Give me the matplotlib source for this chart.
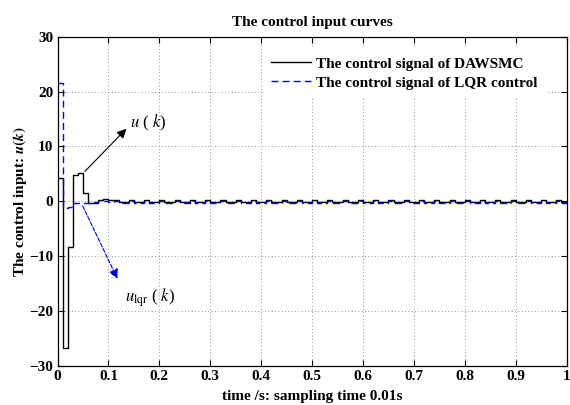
import numpy as np
import matplotlib

matplotlib.use("Agg")
import matplotlib.pyplot as plt

plt.rcParams["font.family"] = ["Liberation Serif", "DejaVu Serif"]
plt.rcParams["mathtext.fontset"] = "stix"

# sampling time 0.01 s, k = 0..100
dt = 0.01
u_dawsmc = [
    4.2, -26.8, -8.3, 4.8, 5.1, 1.6, -0.3, -0.3, 0.3, 0.4,
    0.2, 0.3, -0.2, -0.2, 0.3, -0.2, -0.2, 0.3, -0.2, -0.2,
    0.3, -0.2, -0.2, 0.3, -0.2, -0.2, 0.3, -0.2, -0.2, 0.3,
    -0.2, -0.2, 0.3, -0.2, -0.2, 0.3, -0.2, -0.2, 0.3, -0.2,
    -0.2, 0.3, -0.2, -0.2, 0.3, -0.2, -0.2, 0.3, -0.2, -0.2,
    0.3, -0.2, -0.2, 0.3, -0.2, -0.2, 0.3, -0.2, -0.2, 0.3,
    -0.2, -0.2, 0.3, -0.2, -0.2, 0.3, -0.2, -0.2, 0.3, -0.2,
    -0.2, 0.3, -0.2, -0.2, 0.3, -0.2, -0.2, 0.3, -0.2, -0.2,
    0.3, -0.2, -0.2, 0.3, -0.2, -0.2, 0.3, -0.2, -0.2, 0.3,
    -0.2, -0.2, 0.3, -0.2, -0.2, 0.3, -0.2, -0.2, 0.3, -0.2,
    -0.2,
]
u_lqr = [
    21.5, -1.3, -1.0, -0.4, -0.3, -0.3, -0.3, -0.2, 0.1, 0.1,
    -0.1, 0.1, -0.3, -0.3, 0.1, -0.3, -0.3, 0.1, -0.3, -0.3,
    0.1, -0.3, -0.3, 0.1, -0.3, -0.3, 0.1, -0.3, -0.3, 0.1,
    -0.3, -0.3, 0.1, -0.3, -0.3, 0.1, -0.3, -0.3, 0.1, -0.3,
    -0.3, 0.1, -0.3, -0.3, 0.1, -0.3, -0.3, 0.1, -0.3, -0.3,
    0.1, -0.3, -0.3, 0.1, -0.3, -0.3, 0.1, -0.3, -0.3, 0.1,
    -0.3, -0.3, 0.1, -0.3, -0.3, 0.1, -0.3, -0.3, 0.1, -0.3,
    -0.3, 0.1, -0.3, -0.3, 0.1, -0.3, -0.3, 0.1, -0.3, -0.3,
    0.1, -0.3, -0.3, 0.1, -0.3, -0.3, 0.1, -0.3, -0.3, 0.1,
    -0.3, -0.3, 0.1, -0.3, -0.3, 0.1, -0.3, -0.3, 0.1, -0.3,
    -0.3,
]
x_ticks = [0, 0.1, 0.2, 0.3, 0.4, 0.5, 0.6, 0.7, 0.8, 0.9, 1]
x_ticklabels = ["0", "0.1", "0.2", "0.3", "0.4", "0.5", "0.6", "0.7", "0.8", "0.9", "1"]
y_ticks = [-30, -20, -10, 0, 10, 20, 30]
y_ticklabels = ["\u221230", "\u221220", "\u221210", "0", "10", "20", "30"]

t = np.arange(len(u_dawsmc)) * dt
t_lqr = np.arange(len(u_lqr)) * dt

fig = plt.figure(figsize=(5.7, 4.05), dpi=100)
ax = fig.add_axes([0.101, 0.097, 0.893, 0.812])

ax.plot(t, u_dawsmc, color="black", lw=1.0, drawstyle="steps-post",
        label="The control signal of DAWSMC")
ax.plot(t_lqr, u_lqr, color="blue", lw=1.0, ls=(0, (5, 3)), drawstyle="steps-post",
        label="The control signal of LQR control")

ax.set_xlim(0, 1)
ax.set_ylim(-30, 30)
ax.set_xticks(x_ticks)
ax.set_xticklabels(x_ticklabels)
ax.set_yticks(y_ticks)
ax.set_yticklabels(y_ticklabels)
ax.tick_params(direction="in", top=True, right=True, length=4, labelsize=11, pad=3)
for lab in ax.get_xticklabels() + ax.get_yticklabels():
    lab.set_fontweight("bold")
ax.grid(True, ls=(0, (1, 3)), color="0.45", lw=0.6)
for s in ax.spines.values():
    s.set_linewidth(0.9)

ax.set_title("The control input curves", fontsize=11, fontweight="bold", pad=8)
ax.set_xlabel("time /s: sampling time 0.01s", fontsize=11, fontweight="bold", labelpad=5)
ax.set_ylabel(r"The control input: $\mathbfit{u}\mathbf{(}\mathbfit{k}\mathbf{)}$",
              fontsize=11, fontweight="bold", labelpad=0)

leg = ax.legend(loc="upper right", bbox_to_anchor=(0.972, 0.985), fontsize=11,
                frameon=True, fancybox=False, edgecolor="white", framealpha=1,
                handlelength=2.6, handletextpad=0.3, borderpad=0.5, labelspacing=0.35)
for txt in leg.get_texts():
    txt.set_fontweight("bold")

ax.annotate("", xy=(0.139, 13.6), xytext=(0.05, 5.1),
            arrowprops=dict(arrowstyle="-|>", color="black", lw=0.8, mutation_scale=14))
ax.text(0.142, 14.3, r"$u$ ( $k$)", fontsize=12, va="center", ha="left")
ax.annotate("", xy=(0.12, -14.6), xytext=(0.047, -0.4),
            arrowprops=dict(arrowstyle="-|>", color="blue", lw=0.8, ls="--", mutation_scale=14))
ax.text(0.132, -17.5, r"$u_{\mathrm{lqr}}$ ( $k$)", fontsize=12, va="center", ha="left")

fig.savefig("out.png", dpi=100)
